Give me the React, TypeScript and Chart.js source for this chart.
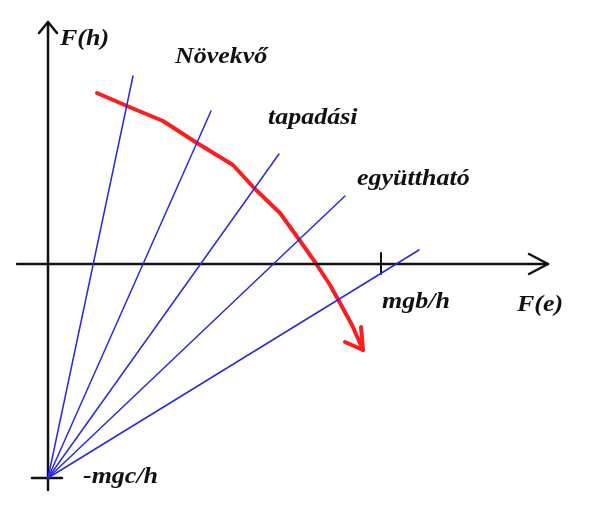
import React, { useEffect, useRef } from "react";
import { Chart, registerables } from "chart.js";

Chart.register(...registerables);

// Diagram units (arbitrary): origin at the axes' crossing
const xAxisRange = [-3.1, 50.0];
const yAxisRange = [-22.6, 24.2];
const mgbOverH = 33.3;
const minusMgcOverH = -21.4;

// Blue lines of constant adhesion coefficient, all from (0, -mgc/h)
const fanEndX = [8.5, 16.3, 23.1, 29.7, 37.1];
const fanEndY = [18.8, 15.3, 11.0, 6.8, 1.4];

// Red curve (increasing adhesion coefficient)
const redX = [4.9, 7.9, 11.5, 14.9, 18.5, 20.7, 23.2, 25.0, 26.7, 28.2, 29.2, 30.4, 31.5];
const redY = [17.1, 15.8, 14.3, 12.1, 9.9, 7.5, 5.1, 2.6, 0.2, -2.1, -3.9, -6.1, -8.6];

const labelTexts = ["F(h)", "Növekvő", "tapadási", "együttható", "mgb/h", "F(e)", "-mgc/h"];
const labelX = [1.2, 12.7, 22.0, 30.9, 33.4, 46.9, 3.5];
const labelY = [21.9, 20.1, 14.0, 7.9, -4.4, -4.7, -21.9];

const BLACK = "#111111";
const BLUE = "rgb(40,40,230)";
const RED = "rgb(250,30,30)";

function seg(points: { x: number; y: number }[], color: string, width: number) {
  return {
    data: points,
    showLine: true,
    borderColor: color,
    backgroundColor: color,
    borderWidth: width,
    pointRadius: 0,
    tension: 0,
    borderCapStyle: "round" as const,
    borderJoinStyle: "round" as const,
  };
}

const labelPlugin = {
  id: "labels",
  afterDatasetsDraw(chart: any) {
    const ctx = chart.ctx;
    const xs = chart.scales.x;
    const ys = chart.scales.y;
    ctx.save();
    ctx.fillStyle = BLACK;
    ctx.font = "italic bold 23px 'Liberation Serif', 'Times New Roman', serif";
    ctx.textAlign = "left";
    ctx.textBaseline = "alphabetic";
    labelTexts.forEach((t, i) => {
      ctx.save();
      ctx.translate(xs.getPixelForValue(labelX[i]), ys.getPixelForValue(labelY[i]));
      ctx.scale(1.13, 1);
      ctx.fillText(t, 0, 0);
      ctx.restore();
    });
    ctx.restore();
  },
};

export default function App() {
  const ref = useRef<HTMLCanvasElement | null>(null);

  useEffect(() => {
    if (!ref.current) return;
    const datasets: any[] = [];
    fanEndX.forEach((ex, i) => {
      datasets.push(seg([{ x: 0, y: minusMgcOverH }, { x: ex, y: fanEndY[i] }], BLUE, 1.5));
    });
    datasets.push(seg([{ x: xAxisRange[0], y: 0 }, { x: xAxisRange[1], y: 0 }], BLACK, 2.5));
    datasets.push(seg([{ x: 0, y: yAxisRange[0] }, { x: 0, y: yAxisRange[1] }], BLACK, 2.5));
    datasets.push(seg([{ x: xAxisRange[1] - 1.9, y: 1.0 }, { x: xAxisRange[1], y: 0 }, { x: xAxisRange[1] - 1.9, y: -1.0 }], BLACK, 2.5));
    datasets.push(seg([{ x: -0.9, y: yAxisRange[1] - 1.1 }, { x: 0, y: yAxisRange[1] }, { x: 0.9, y: yAxisRange[1] - 1.1 }], BLACK, 2.5));
    datasets.push(seg([{ x: mgbOverH, y: 1.1 }, { x: mgbOverH, y: -1.0 }], BLACK, 2));
    datasets.push(seg([{ x: -1.6, y: minusMgcOverH }, { x: 1.4, y: minusMgcOverH }], BLACK, 2.5));
    datasets.push(seg(redX.map((x, i) => ({ x, y: redY[i] })), RED, 4));
    const n = redX.length - 1;
    datasets.push(
      seg(
        [
          { x: redX[n] - 1.8, y: redY[n] + 0.8 },
          { x: redX[n], y: redY[n] },
          { x: redX[n] - 0.2, y: redY[n] + 2.3 },
        ],
        RED,
        4
      )
    );

    const chart = new Chart(ref.current, {
      type: "scatter",
      data: { datasets },
      options: {
        animation: false,
        responsive: false,
        events: [],
        layout: { padding: 0 },
        plugins: { legend: { display: false }, tooltip: { enabled: false } },
        scales: {
          x: { type: "linear", min: -4.8, max: 55.2, display: false },
          y: { type: "linear", min: -25.1, max: 26.4, display: false },
        },
      },
      plugins: [labelPlugin],
    });
    return () => chart.destroy();
  }, []);

  return (
    <div style={{ position: "fixed", left: 0, top: 0, width: 600, height: 515, background: "#fff" }}>
      <canvas ref={ref} width={600} height={515} style={{ display: "block" }} />
    </div>
  );
}
